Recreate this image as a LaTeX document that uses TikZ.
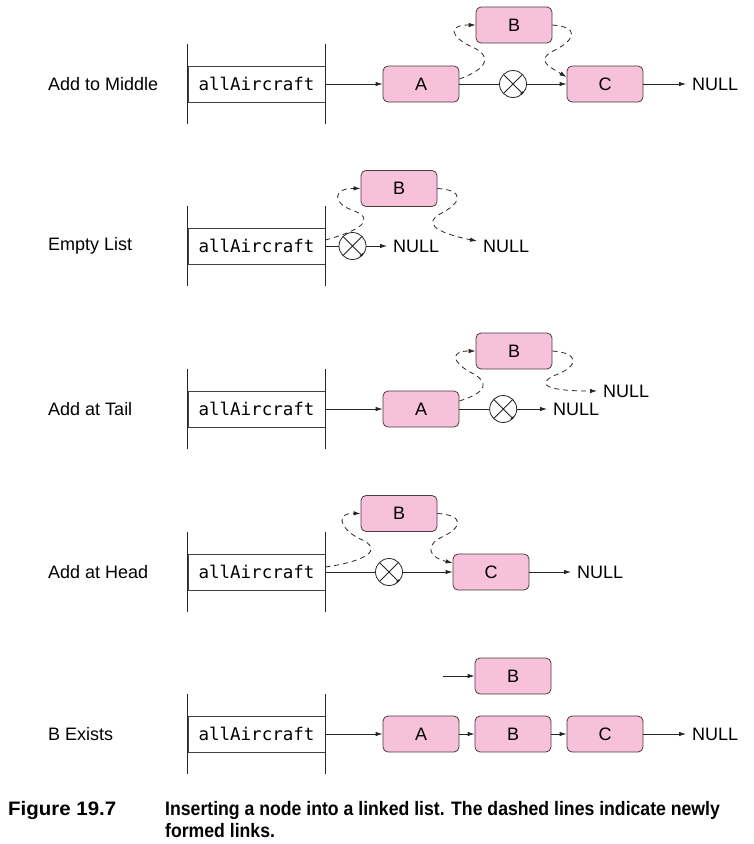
\documentclass[tikz,border=0pt]{standalone}
\usepackage{fontspec}
\setmainfont{Liberation Sans}
\newfontfamily\monofont{DejaVu Sans Mono}
\newfontfamily\capfont[FakeStretch=0.905]{Liberation Sans}
\newfontfamily\figfont[FakeStretch=1.05]{Liberation Sans}
\usetikzlibrary{arrows.meta,calc}

\definecolor{cellpink}{RGB}{247,193,217}
\definecolor{cellline}{RGB}{70,60,65}
\newcommand\labfont{\fontsize{18}{21}\selectfont}
\newcommand\varfont{\monofont\fontsize{17.5}{21}\selectfont}

\tikzset{
  cell/.style={draw=cellline, fill=cellpink, line width=0.8pt, rounded corners=5pt,
    minimum width=76pt, minimum height=36pt, inner sep=0pt, font=\labfont},
  var/.style={draw=black!75, line width=0.8pt, minimum width=137pt, minimum height=36pt,
    inner sep=0pt, font=\varfont},
  wall/.style={draw=black!85, line width=0.8pt},
  link/.style={draw=black!85, line width=0.8pt, -{Latex[length=7pt,width=4.5pt]}},
  newlink/.style={link, dash pattern=on 5pt off 4pt},
  cut/.style={circle, draw=black!85, fill=white, line width=0.8pt, minimum size=27pt,
    inner sep=0pt, path picture={
      \draw[line width=0.8pt] (path picture bounding box.south west) -- (path picture bounding box.north east)
        (path picture bounding box.north west) -- (path picture bounding box.south east);}},
  null/.style={anchor=west, inner xsep=6pt, inner ysep=0pt, font=\labfont},
  rowlabel/.style={anchor=west, inner sep=0pt, font=\labfont},
  capnode/.style={anchor=base west, inner sep=0pt, font=\capfont\bfseries\fontsize{19.5}{22}\selectfont},
  fignode/.style={anchor=base west, inner sep=0pt, font=\figfont\bfseries\fontsize{19.5}{22}\selectfont}
}

\begin{document}
\begin{tikzpicture}[x=1pt,y=-1pt]
\useasboundingbox (0,0) rectangle (753,844);

% row labels and the allAircraft variable
\foreach \i/\y/\t in {1/84/Add to Middle,2/246/Empty List,3/409/Add at Tail,4/572/Add at Head,5/734/B Exists}{
  \node[rowlabel] (lbl\i) at (48,\y) {\t};
  \node[var] (var\i) at (256.5,\y) {allAircraft};
  \draw[wall] ($(var\i.north west)+(0,-22)$) -- ($(var\i.south west)+(0,22)$);
  \draw[wall] ($(var\i.north east)+(0,-22)$) -- ($(var\i.south east)+(0,22)$);
}

% add to middle
\node[cell] (a1) at (421,84) {A};
\node[cell] (b1) at (514,25) {B};
\node[cell] (c1) at (605,84) {C};
\node[null] (n1) at (686,84) {NULL};
\draw[link] (var1.east) -- (a1.west);
\draw[link] (a1.east) -- (c1.west) node[cut,midway] (x1) {};
\draw[link] (c1.east) -- (n1.west);
\draw[newlink] ($(a1.east)+(0,-5)$) .. controls (490,68) and (492,55) .. (470,46)
  .. controls (450,36) and (448,25) .. (b1.west);
\draw[newlink] (b1.east) .. controls (580,27) and (575,40) .. (555,50)
  .. controls (535,60) and (548,66) .. ($(c1.west)+(0,-7)$);

% empty list
\node[cell] (b2) at (399,188.5) {B};
\node[null] (n2a) at (387,246) {NULL};
\node[null] (n2b) at (477,246) {NULL};
\draw[link] (var2.east) -- (n2a.west) node[cut,pos=0.44] (x2) {};
\draw[newlink] ($(var2.east)+(0,-6)$) .. controls (355,232) and (380,220) .. (352,210)
  .. controls (332,203) and (333,188) .. (b2.west);
\draw[newlink] (b2.east) .. controls (465,190) and (462,203) .. (440,214)
  .. controls (425,222) and (432,232) .. ($(n2b.west)+(0,-5)$);

% add at tail
\node[cell] (a3) at (421,409) {A};
\node[cell] (b3) at (514,351) {B};
\node[null] (n3a) at (547,409) {NULL};
\node[null] (n3b) at (597,391) {NULL};
\draw[link] (var3.east) -- (a3.west);
\draw[link] (a3.east) -- (n3a.west) node[cut,midway] (x3) {};
\draw[newlink] ($(a3.east)+(0,-8)$) .. controls (488,392) and (490,382) .. (470,372)
  .. controls (452,362) and (450,351) .. (b3.west);
\draw[newlink] (b3.east) .. controls (580,353) and (578,366) .. (558,374)
  .. controls (540,381) and (535,391) .. (n3b.west);

% add at head
\node[cell] (b4) at (399,513.5) {B};
\node[cell] (c4) at (491,572) {C};
\node[null] (n4) at (571,572) {NULL};
\draw[link] (var4.east) -- (c4.west) node[cut,midway] (x4) {};
\draw[link] (c4.east) -- (n4.west);
\draw[newlink] ($(var4.east)+(0,-5)$) .. controls (362,562) and (388,550) .. (358,538)
  .. controls (340,528) and (335,513) .. (b4.west);
\draw[newlink] (b4.east) .. controls (465,515) and (462,528) .. (442,537)
  .. controls (425,545) and (428,557) .. ($(c4.west)+(0,-9)$);

% b exists
\node[cell] (b5t) at (513,676) {B};
\coordinate (src5) at (443,676);
\node[cell] (a5) at (421,734) {A};
\node[cell] (b5) at (513,734) {B};
\node[cell] (c5) at (605,734) {C};
\node[null] (n5) at (686,734) {NULL};
\draw[link] (src5) -- (b5t.west);
\draw[link] (var5.east) -- (a5.west);
\draw[link] (a5.east) -- (b5.west);
\draw[link] (b5.east) -- (c5.west);
\draw[link] (c5.east) -- (n5.west);

% caption
\node[fignode] (fig) at (8,815) {Figure 19.7};
\node[capnode] (cap1) at (165,815) {Inserting a node into a linked list. The dashed lines indicate newly};
\node[capnode] (cap2) at (165,837) {formed links.};
\end{tikzpicture}
\end{document}
